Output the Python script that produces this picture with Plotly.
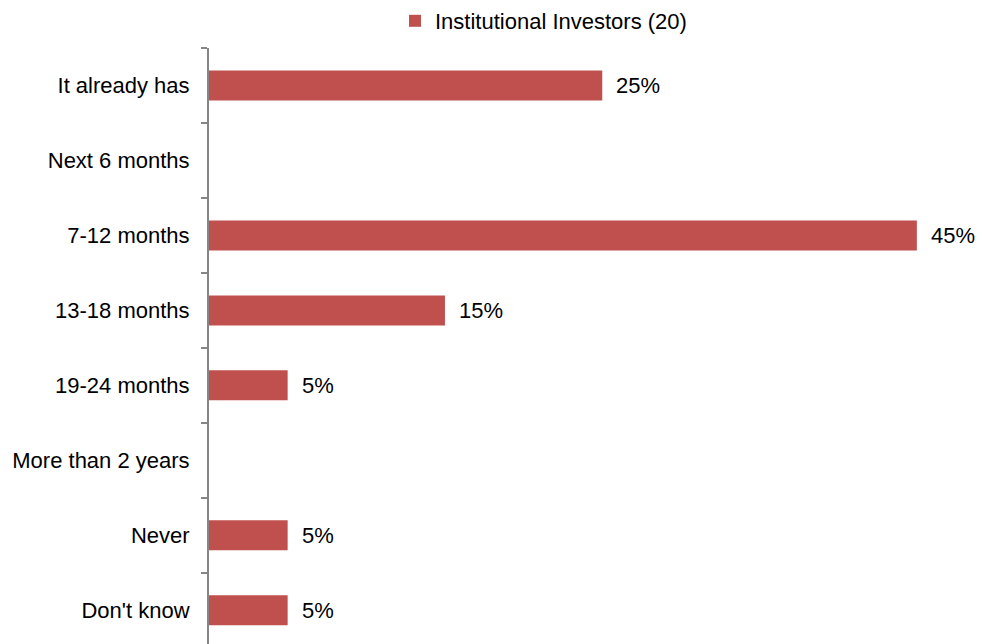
import plotly.graph_objects as go

# Survey responses: share of institutional investors per expected timeframe
categories = [
    "It already has",
    "Next 6 months",
    "7-12 months",
    "13-18 months",
    "19-24 months",
    "More than 2 years",
    "Never",
    "Don't know",
]
shares = [25, 0, 45, 15, 5, 0, 5, 5]
series_name = "Institutional Investors (20)"

BAR_COLOR = "#C0504D"
AXIS_COLOR = "#868686"
FONT = "Liberation Sans, Arial, sans-serif"
FONT_SIZE = 22

W, H = 982, 644
LEFT, TOP = 209, 47
PX_PER_PCT = 15.73

fig = go.Figure()
fig.add_trace(
    go.Bar(
        x=shares,
        y=categories,
        orientation="h",
        name=series_name,
        marker=dict(color=BAR_COLOR, line=dict(width=0)),
        showlegend=True,
    )
)

# Value labels beside each non-empty bar
for cat, val in zip(categories, shares):
    if val > 0:
        fig.add_annotation(
            x=val,
            y=cat,
            text=f"{val}%",
            xanchor="left",
            xshift=12,
            showarrow=False,
            font=dict(family=FONT, size=FONT_SIZE, color="#000000"),
        )

plot_w = W - LEFT
plot_h = H - TOP

fig.update_layout(
    width=W,
    height=H,
    margin=dict(l=LEFT, r=0, t=TOP, b=0, pad=0),
    paper_bgcolor="white",
    plot_bgcolor="white",
    bargap=0.6,
    font=dict(family=FONT, size=FONT_SIZE, color="#000000"),
    legend=dict(
        orientation="h",
        x=(395 - LEFT) / plot_w,
        xanchor="left",
        y=1 + (TOP - 20) / plot_h,
        yanchor="middle",
        font=dict(family=FONT, size=FONT_SIZE),
        bgcolor="rgba(0,0,0,0)",
    ),
    xaxis=dict(
        range=[0, plot_w / PX_PER_PCT],
        showgrid=False,
        zeroline=False,
        showline=False,
        showticklabels=False,
        ticks="",
        fixedrange=True,
    ),
    yaxis=dict(
        type="category",
        categoryorder="array",
        categoryarray=categories,
        range=[7.45, -0.5],
        showgrid=False,
        zeroline=False,
        showline=True,
        linecolor=AXIS_COLOR,
        linewidth=2,
        ticks="outside",
        tickson="boundaries",
        ticklen=6,
        tickwidth=1.5,
        tickcolor=AXIS_COLOR,
        ticklabelstandoff=13,
        automargin=False,
        fixedrange=True,
    ),
)

fig.write_html("out.html")
